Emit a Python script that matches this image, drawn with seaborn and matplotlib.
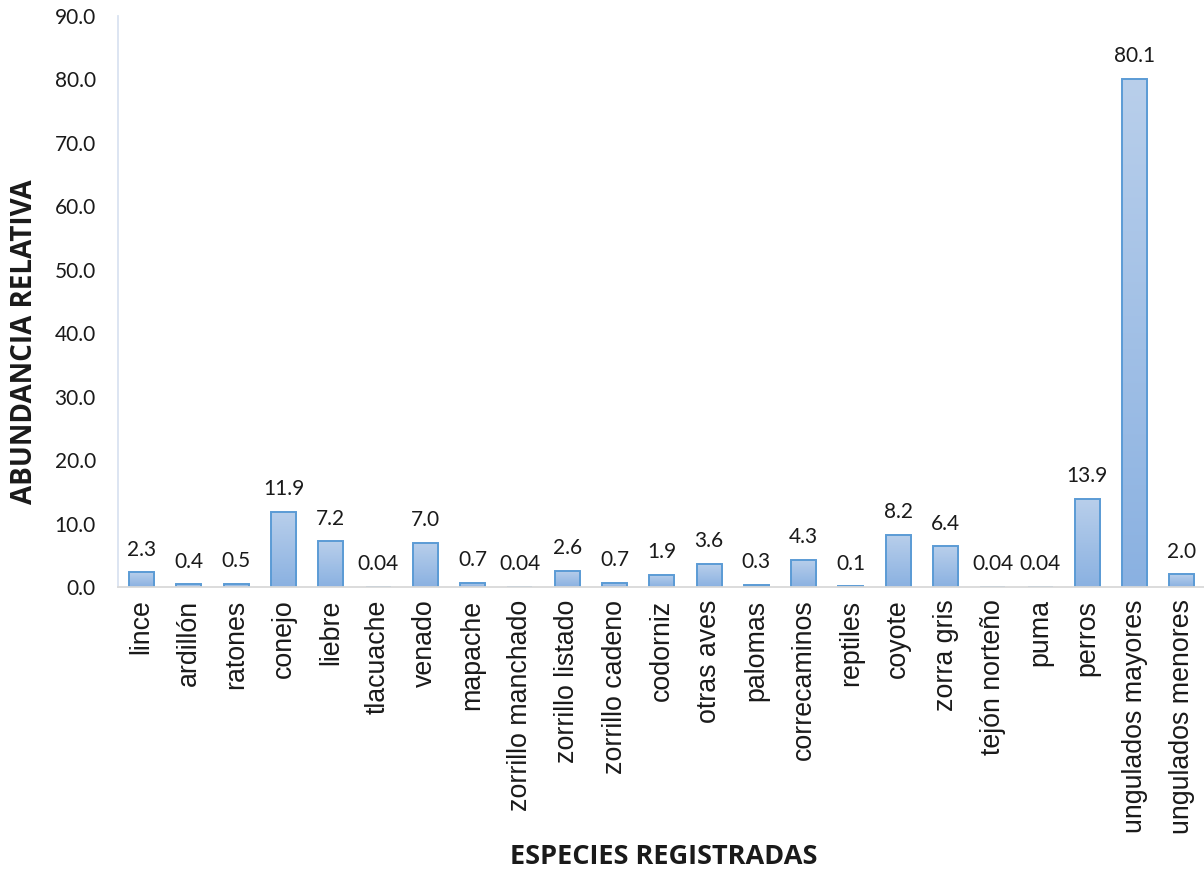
import numpy as np
import matplotlib
matplotlib.use("Agg")
import matplotlib.pyplot as plt
from matplotlib.colors import LinearSegmentedColormap
import seaborn as sns

# Relative abundance of recorded species
species = [
    "lince", "ardillón", "ratones", "conejo", "liebre", "tlacuache", "venado",
    "mapache", "zorrillo manchado", "zorrillo listado", "zorrillo cadeno",
    "codorniz", "otras aves", "palomas", "correcaminos", "reptiles", "coyote",
    "zorra gris", "tejón norteño", "puma", "perros", "ungulados mayores",
    "ungulados menores",
]
abundance = [
    2.3, 0.4, 0.5, 11.9, 7.2, 0.04, 7.0, 0.7, 0.04, 2.6, 0.7, 1.9, 3.6, 0.3,
    4.3, 0.1, 8.2, 6.4, 0.04, 0.04, 13.9, 80.1, 2.0,
]
y_ticks = [0, 10, 20, 30, 40, 50, 60, 70, 80, 90]

sns.set_theme(style="white")
plt.rcParams["font.family"] = ["Lato", "DejaVu Sans"]

W, H = 1204, 869
fig = plt.figure(figsize=(W / 100, H / 100), dpi=100)
ax = fig.add_axes([118 / W, (H - 587) / H, (1205.6 - 118) / W, (587 - 16) / H])

sns.barplot(x=species, y=abundance, color="#9fbfe6", width=0.53,
            edgecolor="#5b9bd5", linewidth=1.4, ax=ax, saturation=1)

# vertical gradient fill inside each bar
grad_cmap = LinearSegmentedColormap.from_list("bar_grad", ["#8ab1e1", "#b9cfeb"])
grad = np.linspace(0, 1, 256).reshape(-1, 1)
for patch in ax.patches:
    x0, y0 = patch.get_x(), patch.get_y()
    w, h = patch.get_width(), patch.get_height()
    im = ax.imshow(grad, cmap=grad_cmap, origin="lower", aspect="auto",
                   extent=[x0, x0 + w, y0, y0 + h], zorder=patch.get_zorder() - 0.1,
                   interpolation="bicubic")
    im.set_clip_path(patch)
    patch.set_facecolor("none")

ax.set_xlim(-0.5, len(species) - 0.5)
ax.set_ylim(0, 90)
ax.set_aspect("auto")

# value labels above bars
for i, v in enumerate(abundance):
    label = f"{v:.1f}" if v >= 0.1 else f"{v:.2f}"
    ax.text(i, v + 2.0, label, ha="center", va="bottom", fontsize=15,
            color="#1a1a1a")

ax.set_yticks(y_ticks)
ax.set_yticklabels([f"{t:.1f}" for t in y_ticks], fontsize=15, color="#1a1a1a")
ax.set_xticks(range(len(species)))
ax.set_xticklabels(species, rotation=90, fontsize=19.3, color="#1a1a1a",
                   family=["Liberation Sans", "DejaVu Sans"])
ax.tick_params(axis="y", length=0, pad=16)
ax.tick_params(axis="x", length=0, pad=9)
ax.set_xlabel("")
ax.set_ylabel("")

for side in ["top", "right"]:
    ax.spines[side].set_visible(False)
ax.spines["left"].set_color("#dae3f1")
ax.spines["left"].set_linewidth(1.3)
ax.spines["bottom"].set_color("#d9d9d9")
ax.spines["bottom"].set_linewidth(1.3)

fig.text(664 / W, 1 - 857 / H, "ESPECIES REGISTRADAS", ha="center", va="center",
         fontsize=19.5, fontweight="bold", family=["Open Sans", "DejaVu Sans"],
         color="#1a1a1a")
fig.text(25 / W, 1 - 341.5 / H, "ABUNDANCIA RELATIVA", ha="center", va="center",
         rotation=90, fontsize=20, fontweight="bold",
         family=["Open Sans", "DejaVu Sans"], color="#1a1a1a")

fig.savefig("out.png", dpi=100)
